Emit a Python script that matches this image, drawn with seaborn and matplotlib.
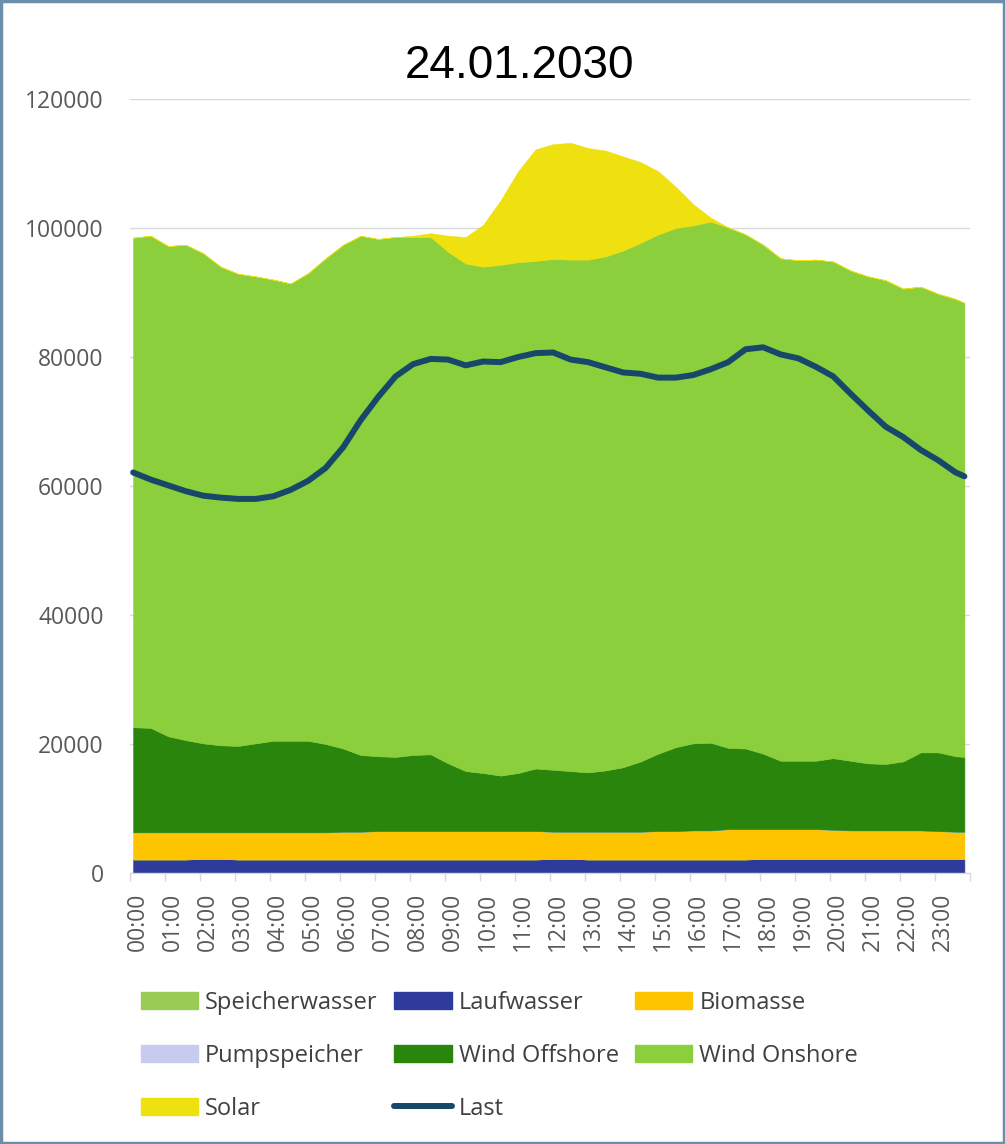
import numpy as np
import pandas as pd
import matplotlib
matplotlib.use("Agg")
import matplotlib.pyplot as plt
import seaborn as sns
from matplotlib.patches import Patch, Rectangle
from matplotlib.lines import Line2D

# ---------------- data (MW) ----------------
TIMES = [f"{h:02d}:{m:02d}" for h in range(24) for m in (0, 30)] + ["23:45"]
HOUR_LABELS = [f"{h:02d}:00" for h in range(24)]
TITLE = "24.01.2030"

LAUFWASSER = [2100, 2100, 2100, 2100, 2200, 2200, 2100, 2100, 2100, 2100,
              2100, 2100, 2100, 2100, 2100, 2100, 2100, 2100, 2100, 2100,
              2100, 2100, 2100, 2100, 2200, 2200, 2100, 2100, 2100, 2100,
              2100, 2100, 2100, 2100, 2100, 2100, 2200, 2200, 2200, 2200,
              2200, 2200, 2200, 2200, 2200, 2200, 2200, 2200, 2200]
SPEICHERWASSER = [0] * 49
PUMPSPEICHER = [0] * 49
BIOMASSE = [4200, 4200, 4200, 4200, 4100, 4100, 4200, 4200, 4200, 4200,
            4200, 4200, 4300, 4300, 4400, 4400, 4400, 4400, 4400, 4400,
            4400, 4400, 4400, 4400, 4200, 4200, 4300, 4300, 4300, 4300,
            4400, 4400, 4500, 4500, 4700, 4700, 4600, 4600, 4600, 4600,
            4500, 4400, 4400, 4400, 4400, 4400, 4300, 4200, 4200]
WIND_OFFSHORE = [16300, 16200, 14900, 14300, 13800, 13500, 13400, 13800, 14200, 14200,
                 14200, 13700, 12900, 11900, 11600, 11500, 11800, 11900, 10500, 9300,
                 9000, 8600, 9000, 9700, 9600, 9400, 9200, 9500, 10000, 10900,
                 12000, 13000, 13500, 13600, 12600, 12500, 11700, 10600, 10600, 10600,
                 11100, 10800, 10400, 10300, 10700, 12100, 12200, 11700, 11600]
WIND_ONSHORE = [75900, 76300, 76000, 76800, 76000, 74200, 73200, 72400, 71500, 70900,
                72500, 75300, 78100, 80500, 80200, 80600, 80300, 80200, 79300, 78700,
                78500, 79200, 79200, 78700, 79200, 79300, 79500, 79700, 80100, 80400,
                80500, 80500, 80300, 80800, 80700, 79700, 78900, 77900, 77600, 77700,
                77000, 76000, 75500, 75000, 73300, 72200, 71100, 70900, 70400]
SOLAR = [0, 0, 0, 0, 0, 0, 0, 0, 0, 0,
         0, 0, 0, 0, 0, 0, 200, 600, 2500, 4100,
         6500, 10000, 14100, 17300, 17800, 18100, 17300, 16400, 14600, 12500,
         9800, 6400, 3300, 600, 0, 0, 0, 0, 0, 0,
         0, 0, 0, 0, 0, 0, 0, 0, 0]
LAST = [62100, 61000, 60100, 59200, 58500, 58200, 58000, 58000, 58400, 59400,
        60800, 62800, 66000, 70200, 73800, 77000, 78900, 79700, 79600, 78700,
        79300, 79200, 80000, 80600, 80700, 79600, 79200, 78400, 77600, 77400,
        76800, 76800, 77200, 78100, 79200, 81200, 81500, 80400, 79800, 78500,
        77000, 74300, 71700, 69200, 67600, 65600, 64000, 62100, 61500]

COLORS = {
    "Speicherwasser": "#9ACB55",
    "Laufwasser": "#2E3A9C",
    "Biomasse": "#FFC400",
    "Pumpspeicher": "#C8CBF0",
    "Wind Offshore": "#2A850C",
    "Wind Onshore": "#8BCF3D",
    "Solar": "#EFE00F",
    "Last": "#17486A",
}

# ---------------- figure ----------------
sns.set_theme(style="white")
plt.rcParams["font.family"] = ["Open Sans", "DejaVu Sans"]

W, H = 1005, 1144
fig = plt.figure(figsize=(W / 100, H / 100), dpi=100)
fig.patch.set_facecolor("white")
ax = fig.add_axes([130 / W, 1 - 873 / H, 840 / W, 774 / H])

hours = [int(t[:2]) + int(t[3:]) / 60 for t in TIMES]
df = pd.DataFrame({"hour": hours, "Laufwasser": LAUFWASSER,
                   "Speicherwasser": SPEICHERWASSER, "Biomasse": BIOMASSE,
                   "Pumpspeicher": PUMPSPEICHER, "Wind Offshore": WIND_OFFSHORE,
                   "Wind Onshore": WIND_ONSHORE, "Solar": SOLAR, "Last": LAST})

order = ["Laufwasser", "Speicherwasser", "Biomasse", "Pumpspeicher",
         "Wind Offshore", "Wind Onshore", "Solar"]
polys = ax.stackplot(df["hour"], *[df[c] for c in order],
                     colors=[COLORS[c] for c in order], labels=order,
                     linewidth=0.4, zorder=2)
for p, c in zip(polys, order):
    p.set_edgecolor(COLORS[c])

sns.lineplot(data=df, x="hour", y="Last", ax=ax, color=COLORS["Last"],
             linewidth=4.3, legend=False, zorder=3,
             solid_capstyle="round", solid_joinstyle="round")

ax.set_xlim(-0.085, 23.85)
ax.set_ylim(0, 120000)
ax.set_yticks(np.arange(0, 120001, 20000))
ax.set_yticklabels([str(v) for v in range(0, 120001, 20000)])
ax.yaxis.grid(True, color="#D9D9D9", linewidth=1.0, zorder=0)
ax.xaxis.grid(False)
ax.set_axisbelow(True)
ax.tick_params(axis="y", length=0, pad=19, labelsize=16.5, labelcolor="#595959")

ax.set_xticks([k + 0.14 for k in range(24)])
ax.set_xticklabels(HOUR_LABELS, rotation=90)
ax.set_xticks([k - 0.09 for k in range(25)], minor=True)
ax.tick_params(axis="x", which="major", length=0, pad=14, labelsize=16.5,
               labelcolor="#595959")
ax.tick_params(axis="x", which="minor", length=6, width=1, color="#D9D9D9",
               bottom=True)
for s in ["top", "right", "left"]:
    ax.spines[s].set_visible(False)
ax.spines["bottom"].set_color("#D9D9D9")
ax.spines["bottom"].set_linewidth(1)
ax.set_xlabel("")
ax.set_ylabel("")
ax.set_facecolor("white")

fig.text(519 / W, 1 - 66 / H, TITLE, ha="center", va="center",
         fontsize=33, color="black", family=["Liberation Sans", "DejaVu Sans"])

# legend (row-wise layout as in reference)
def patch(name):
    return Patch(facecolor=COLORS[name], edgecolor=COLORS[name], label=name)

last_handle = Line2D([0], [0], color=COLORS["Last"], lw=4.3,
                     solid_capstyle="round", label="Last")
handles = [patch("Speicherwasser"), patch("Pumpspeicher"), patch("Solar"),
           patch("Laufwasser"), patch("Wind Offshore"), last_handle,
           patch("Biomasse"), patch("Wind Onshore")]
leg = fig.legend(handles=handles, labels=[h.get_label() for h in handles],
                 ncol=3, loc="upper left", bbox_to_anchor=(141 / W, 1 - 991 / H),
                 frameon=False, fontsize=17, handlelength=2.42,
                 handleheight=0.7, handletextpad=0.3, columnspacing=0.7,
                 labelspacing=1.22, borderpad=0, borderaxespad=0)
for t in leg.get_texts():
    t.set_color("#404040")

fig.add_artist(Rectangle((0.001, 0.001), 0.998, 0.998, transform=fig.transFigure,
                         fill=False, edgecolor="#6C8EAB", linewidth=2.5))

fig.savefig("out.png", dpi=100, facecolor="white")
